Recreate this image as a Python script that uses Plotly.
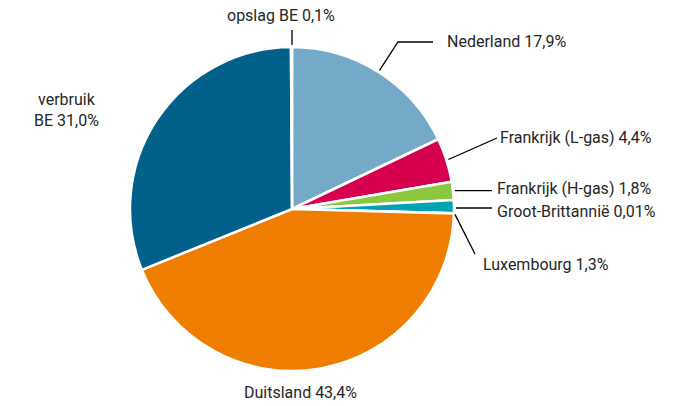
import math
import plotly.graph_objects as go

W, H = 673, 406

labels = ["Nederland", "Frankrijk (L-gas)", "Frankrijk (H-gas)", "Luxembourg",
          "Groot-Brittannië", "Duitsland", "verbruik BE", "opslag BE"]
values = [17.9, 4.4, 1.8, 1.3, 0.01, 43.4, 31.0, 0.1]
value_text = ["17,9%", "4,4%", "1,8%", "1,3%", "0,01%", "43,4%", "31,0%", "0,1%"]
colors = ["#74aac7", "#d6004f", "#8dc63f", "#00a3b4", "#00a3b4",
          "#ef7d00", "#00608a", "#ffffff"]

# pie geometry (pixels)
cx, cy, R = 292, 209, 162

fig = go.Figure(go.Pie(
    labels=labels, values=values, sort=False, direction="clockwise",
    rotation=0, textinfo="none", hoverinfo="label+percent",
    marker=dict(colors=colors, line=dict(color="white", width=2.5)),
    domain=dict(x=[(cx - R) / W, (cx + R) / W],
                y=[(H - cy - R) / H, (H - cy + R) / H]),
    showlegend=False,
))

total = sum(values)
cum = 0
mids = []
for v in values:
    mids.append((cum + v / 2) / total)
    cum += v


def edge(frac, rr=R):
    t = 2 * math.pi * frac
    return cx + rr * math.sin(t), cy - rr * math.cos(t)


def px(x):
    return x / W


def py(y):
    return 1 - y / H


font = dict(family="Roboto, sans-serif", size=16, color="#262626")
shapes = []
annos = []


def line(pts):
    path = "M " + " L ".join(f"{px(x)},{py(y)}" for x, y in pts)
    shapes.append(dict(type="path", path=path, xref="paper", yref="paper",
                       line=dict(color="black", width=1.3)))


def text(x, y, s, anchor="left"):
    annos.append(dict(x=px(x), y=py(y), xref="paper", yref="paper", text=s,
                      showarrow=False, xanchor=anchor, yanchor="middle",
                      font=font, align="center"))


# Nederland (elbow)
ex, ey = edge(mids[0], R + 2)
line([(ex, ey), (398, 42), (433, 42)])
text(445, 42, f"{labels[0]} {value_text[0]}")
# Frankrijk L
ex, ey = edge(mids[1], R + 2)
line([(ex, ey), (497, 138)])
text(498, 137, f"{labels[1]} {value_text[1]}")
# Frankrijk H
ex, ey = edge(mids[2], R + 2)
line([(ex, ey), (492, ey)])
text(495, 189, f"{labels[2]} {value_text[2]}")
# Groot-Brittannië
ex, ey = edge(mids[3], R + 2)
line([(ex, 208), (492, 208)])
text(495, 211, f"{labels[4]} {value_text[4]}")
# Luxembourg
ex, ey = edge(mids[4], R + 1)
line([(ex, ey + 1), (475, 254)])
text(481, 264, f"{labels[3]} {value_text[3]}")
# opslag BE
ex, ey = edge(1.0, R)
line([(ex, ey - 2), (ex, 30)])
text(281, 16, f"{labels[7]} {value_text[7]}", "center")
# verbruik BE
text(66, 110, f"verbruik<br>BE {value_text[6]}", "center")
# Duitsland
text(300, 392, f"{labels[5]} {value_text[5]}", "center")

fig.update_layout(width=W, height=H, margin=dict(l=0, r=0, t=0, b=0),
                  paper_bgcolor="white", plot_bgcolor="white",
                  shapes=shapes, annotations=annos)
fig.write_html("out.html", config={"displayModeBar": False},
               post_script="document.body.style.margin='0';")
